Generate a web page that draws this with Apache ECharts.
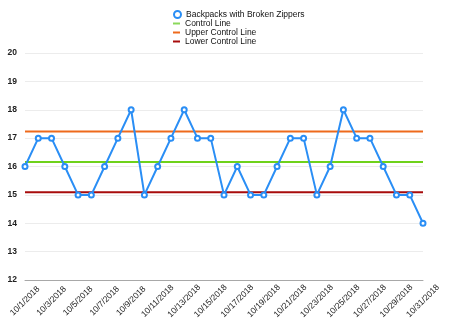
<!DOCTYPE html>
<html>
<head>
<meta charset="utf-8">
<script src="https://cdn.jsdelivr.net/npm/echarts@6/dist/echarts.min.js"></script>
<style>
  html, body { margin: 0; padding: 0; background: #fff; }
  #chart { width: 450px; height: 330px; }
</style>
</head>
<body>
<div id="chart"></div>
<script>
// Daily counts of backpacks with broken zippers, October 2018
const dates = [
  '10/1/2018', '10/2/2018', '10/3/2018', '10/4/2018', '10/5/2018', '10/6/2018',
  '10/7/2018', '10/8/2018', '10/9/2018', '10/10/2018', '10/11/2018', '10/12/2018',
  '10/13/2018', '10/14/2018', '10/15/2018', '10/16/2018', '10/17/2018', '10/18/2018',
  '10/19/2018', '10/20/2018', '10/21/2018', '10/22/2018', '10/23/2018', '10/24/2018',
  '10/25/2018', '10/26/2018', '10/27/2018', '10/28/2018', '10/29/2018', '10/30/2018',
  '10/31/2018'
];
const brokenZippers = [
  16, 17, 17, 16, 15, 15, 16, 17, 18, 15, 16, 17, 18, 17, 17, 15,
  16, 15, 15, 16, 17, 17, 15, 16, 18, 17, 17, 16, 15, 15, 14
];
const controlLine = 16.16;
const upperControlLine = 17.23;
const lowerControlLine = 15.09;
const yTicks = [12, 13, 14, 15, 16, 17, 18, 19, 20];

const flat = v => dates.map(() => v);

const chart = echarts.init(document.getElementById('chart'), null, { renderer: 'canvas' });
const font = 'Helvetica, "Liberation Sans", Arial, sans-serif';
const legendText = { fontSize: 8.5, color: '#111', fontFamily: font, lineHeight: 9 };

chart.setOption({
  animation: false,
  textStyle: { fontFamily: font },
  legend: [
    {
      // marker entry for the measured series
      orient: 'vertical',
      left: 173,
      top: 10,
      padding: 0,
      itemWidth: 7,
      itemHeight: 7,
      itemGap: 0,
      textStyle: legendText,
      data: [{ name: 'Backpacks with Broken Zippers', icon: 'emptyCircle' }]
    },
    {
      // short bar entries for the three reference lines
      orient: 'vertical',
      left: 173,
      top: 19,
      padding: 0,
      itemWidth: 7,
      itemHeight: 2,
      itemGap: 0,
      textStyle: legendText,
      data: [
        { name: 'Control Line', icon: 'rect' },
        { name: 'Upper Control Line', icon: 'rect' },
        { name: 'Lower Control Line', icon: 'rect' }
      ]
    }
  ],
  grid: { left: 25, right: 27, top: 53, bottom: 50, containLabel: false, outerBoundsMode: 'none' },
  xAxis: {
    type: 'category',
    data: dates,
    boundaryGap: false,
    axisLine: { lineStyle: { color: '#a8a8a8', width: 1 } },
    axisTick: { show: false },
    splitLine: { show: false },
    axisLabel: {
      interval: 1,
      rotate: 45,
      align: 'center',
      verticalAlign: 'middle',
      fontSize: 8.5,
      color: '#222',
      margin: 21,
      fontFamily: font
    }
  },
  yAxis: {
    type: 'value',
    min: yTicks[0],
    max: yTicks[yTicks.length - 1],
    interval: 1,
    axisLine: { show: false },
    axisTick: { show: false },
    splitLine: { lineStyle: { color: '#ececec', width: 1 } },
    axisLabel: { fontSize: 8.5, fontWeight: 'bold', color: '#222', margin: 8, fontFamily: font }
  },
  series: [
    {
      name: 'Control Line',
      type: 'line',
      data: flat(controlLine),
      symbol: 'none',
      lineStyle: { color: '#6fd21a', width: 2 },
      itemStyle: { color: '#8ad85a' },
      z: 2
    },
    {
      name: 'Upper Control Line',
      type: 'line',
      data: flat(upperControlLine),
      symbol: 'none',
      lineStyle: { color: '#ee6a1c', width: 2 },
      itemStyle: { color: '#ee6a1c' },
      z: 2
    },
    {
      name: 'Lower Control Line',
      type: 'line',
      data: flat(lowerControlLine),
      symbol: 'none',
      lineStyle: { color: '#a80c0c', width: 2 },
      itemStyle: { color: '#a80c0c' },
      z: 2
    },
    {
      name: 'Backpacks with Broken Zippers',
      type: 'line',
      data: brokenZippers,
      symbol: 'emptyCircle',
      symbolSize: 5,
      showAllSymbol: true,
      lineStyle: { color: '#2a8ef5', width: 2 },
      itemStyle: { color: '#2a8ef5', borderWidth: 1.5, borderColor: '#2a8ef5' },
      z: 3
    }
  ]
});
</script>
</body>
</html>
